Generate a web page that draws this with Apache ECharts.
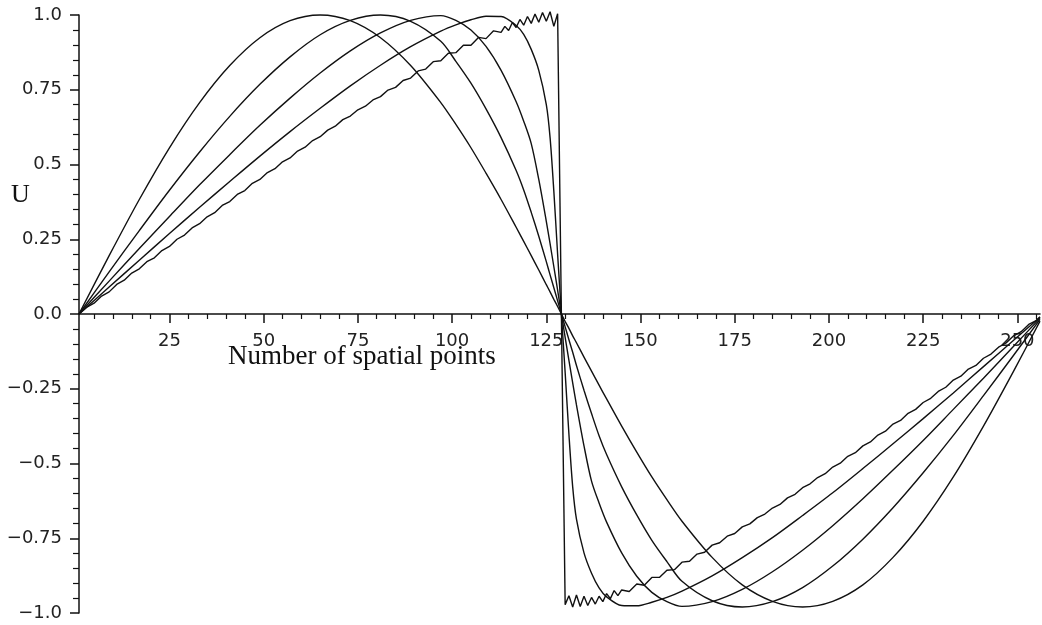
<!DOCTYPE html>
<html>
<head>
<meta charset="utf-8">
<script src="https://cdn.jsdelivr.net/npm/echarts@6/dist/echarts.min.js"></script>
<style>
  html, body { margin: 0; padding: 0; background: #fff; }
  #chart { width: 1042px; height: 625px; }
</style>
</head>
<body>
<div id="chart"></div>
<script>
// Spatial sample positions shared by the four smooth profiles
const xs = [1, 9, 17, 25, 33, 41, 49, 57, 65, 73, 81, 89, 97, 101, 105, 109, 113, 117, 119, 121, 123, 125, 126, 127, 128, 129,
  130, 131, 132, 133, 135, 137, 139, 141, 145, 149, 153, 157, 161, 169, 177, 185, 193, 201, 209, 217, 225, 233, 241, 249, 256];

// Profile 1: initial sine wave
const u1 = [0, 0.195, 0.383, 0.556, 0.707, 0.831, 0.924, 0.981, 1.0, 0.981, 0.924, 0.831, 0.707, 0.634, 0.556, 0.471, 0.383, 0.290, 0.243, 0.195, 0.147, 0.098, 0.074, 0.049, 0.025, 0,
  -0.025, -0.048, -0.073, -0.096, -0.144, -0.191, -0.238, -0.284, -0.375, -0.462, -0.545, -0.621, -0.693, -0.814, -0.906, -0.961, -0.98, -0.961, -0.906, -0.814, -0.693, -0.545, -0.375, -0.191, -0.024];

// Profile 2
const u2 = [0, 0.141, 0.279, 0.414, 0.542, 0.661, 0.768, 0.860, 0.934, 0.982, 1.0, 0.979, 0.912, 0.845, 0.772, 0.686, 0.590, 0.480, 0.415, 0.340, 0.260, 0.175, 0.131, 0.088, 0.044, 0,
  -0.043, -0.086, -0.128, -0.172, -0.255, -0.333, -0.407, -0.470, -0.578, -0.672, -0.757, -0.828, -0.894, -0.959, -0.980, -0.962, -0.915, -0.843, -0.753, -0.648, -0.531, -0.406, -0.273, -0.138, -0.018];

// Profile 3
const u3 = [0, 0.110, 0.219, 0.326, 0.432, 0.533, 0.631, 0.722, 0.806, 0.880, 0.940, 0.982, 0.998, 0.982, 0.950, 0.895, 0.815, 0.710, 0.645, 0.570, 0.450, 0.310, 0.235, 0.158, 0.080, 0,
  -0.078, -0.155, -0.230, -0.304, -0.441, -0.559, -0.632, -0.696, -0.799, -0.877, -0.931, -0.962, -0.978, -0.962, -0.921, -0.862, -0.790, -0.708, -0.618, -0.522, -0.423, -0.319, -0.215, -0.108, -0.014];

// Profile 4
const u4 = [0, 0.090, 0.180, 0.269, 0.357, 0.443, 0.528, 0.610, 0.688, 0.763, 0.832, 0.894, 0.946, 0.967, 0.984, 0.996, 0.995, 0.965, 0.935, 0.885, 0.815, 0.700, 0.590, 0.410, 0.200, 0,
  -0.196, -0.402, -0.578, -0.686, -0.799, -0.867, -0.916, -0.946, -0.975, -0.976, -0.964, -0.948, -0.927, -0.876, -0.815, -0.748, -0.674, -0.598, -0.517, -0.434, -0.350, -0.264, -0.176, -0.088, -0.011];

// Profile 5 (steepened front with ripples) has its own, finer sampling
const xs5 = [1, 3, 5, 7, 9, 11, 13, 15, 17, 19, 21, 23, 25, 27, 29, 31, 33, 35, 37, 39, 41, 43, 45, 47, 49, 51, 53, 55, 57, 59,
  61, 63, 65, 67, 69, 71, 73, 75, 77, 79, 81, 83, 85, 87, 89, 91, 93, 95, 97, 99, 101, 103, 105, 107, 109, 111, 113,
  114, 115, 116, 117, 118, 119, 120, 121, 122, 123, 124, 125, 126, 127, 128,
  129,
  130, 131, 132, 133, 134, 135, 136, 137, 138, 139, 140, 141, 142, 143, 144,
  145, 147, 149, 151, 153, 155, 157, 159, 161, 163, 165, 167, 169, 171, 173, 175, 177, 179, 181, 183, 185, 187, 189, 191,
  193, 195, 197, 199, 201, 203, 205, 207, 209, 211, 213, 215, 217, 219, 221, 223, 225, 227, 229, 231, 233, 235, 237, 239,
  241, 243, 245, 247, 249, 251, 253, 255,
  256];

const u5 = [0, 0.022, 0.036, 0.060, 0.074, 0.099, 0.113, 0.137, 0.151, 0.175, 0.188, 0.212, 0.226, 0.250, 0.264, 0.288, 0.302, 0.325, 0.339, 0.363,
  0.376, 0.400, 0.413, 0.437, 0.450, 0.473, 0.486, 0.509, 0.522, 0.545, 0.558, 0.580, 0.593, 0.615, 0.628, 0.650, 0.662, 0.683, 0.695, 0.716,
  0.727, 0.749, 0.758, 0.781, 0.789, 0.813, 0.819, 0.844, 0.847, 0.872, 0.874, 0.899, 0.899, 0.925, 0.921, 0.947, 0.942,
  0.962, 0.948, 0.975, 0.958, 0.985, 0.966, 0.995, 0.972, 1.003, 0.976, 1.008, 0.979, 1.011, 0.962, 1.004,
  0,
  -0.972, -0.942, -0.980, -0.940, -0.978, -0.944, -0.975, -0.948, -0.970, -0.944, -0.962, -0.935, -0.952, -0.925, -0.942,
  -0.923, -0.928, -0.903, -0.907, -0.881, -0.881, -0.857, -0.855, -0.830, -0.827, -0.803, -0.797, -0.773, -0.765, -0.743, -0.734, -0.712, -0.702, -0.681, -0.669,
  -0.649, -0.637, -0.615, -0.603, -0.581, -0.568, -0.547, -0.534, -0.512, -0.499, -0.476, -0.464, -0.441, -0.428, -0.405, -0.392, -0.368, -0.356, -0.332, -0.319,
  -0.296, -0.282, -0.259, -0.245, -0.221, -0.208, -0.184, -0.172, -0.148, -0.134, -0.111, -0.097, -0.073, -0.059, -0.035, -0.022,
  -0.009];

// Axis ticks
const xMajorTicks = [25, 50, 75, 100, 125, 150, 175, 200, 225, 250];
const xMinorTicks = [5, 10, 15, 20, 30, 35, 40, 45, 55, 60, 65, 70, 80, 85, 90, 95, 105, 110, 115, 120,
  130, 135, 140, 145, 155, 160, 165, 170, 180, 185, 190, 195, 205, 210, 215, 220, 230, 235, 240, 245, 255];
const yTickLabels = { '-1': '\u22121.0', '-0.75': '\u22120.75', '-0.5': '\u22120.5', '-0.25': '\u22120.25',
  '0': '0.0', '0.25': '0.25', '0.5': '0.5', '0.75': '0.75', '1': '1.0' };

const xTitle = 'Number of spatial points';
const yTitle = 'U';

const ink = '#111';
const labelFont = { fontFamily: 'DejaVu Sans', fontSize: 18, color: '#222' };

// plot box: U = 1 at y 15, U = -1 at y 613, so U = 0 sits 299px above the bottom edge
const gridTop = 15, gridBottom = 12, zeroLift = -299;

function pairs(x, y) { return x.map((v, i) => [v, y[i]]); }

function profile(x, y, smooth) {
  return {
    type: 'line',
    data: pairs(x, y),
    showSymbol: false,
    clip: false,
    smooth: smooth ? 0.3 : false,
    lineStyle: { color: ink, width: 1.4 },
    silent: true,
    animation: false
  };
}

const chart = echarts.init(document.getElementById('chart'), null, { renderer: 'canvas' });
chart.setOption({
  backgroundColor: '#fff',
  animation: false,
  grid: { left: 79, right: 2, top: gridTop, bottom: gridBottom, containLabel: false },
  xAxis: [
    {
      type: 'value', min: 1, max: 256, position: 'bottom', offset: zeroLift,
      axisLine: { onZero: false, lineStyle: { color: ink, width: 1.5 } },
      axisTick: { show: true, customValues: xMajorTicks, length: 9, lineStyle: { color: ink, width: 1.5 } },
      axisLabel: Object.assign({ customValues: xMajorTicks, margin: 18 }, labelFont),
      splitLine: { show: false }
    },
    {
      type: 'value', min: 1, max: 256, position: 'bottom', offset: zeroLift,
      axisLine: { show: false, onZero: false },
      axisTick: { show: true, customValues: xMinorTicks, length: 5, lineStyle: { color: ink, width: 1.2 } },
      axisLabel: { show: false },
      splitLine: { show: false }
    }
  ],
  yAxis: {
    type: 'value', min: -1, max: 1, interval: 0.25,
    axisLine: { show: true, onZero: false, lineStyle: { color: ink, width: 1.5 } },
    axisTick: { show: true, length: 9, lineStyle: { color: ink, width: 1.5 } },
    minorTick: { show: true, splitNumber: 5, length: 6, lineStyle: { color: ink, width: 1.2 } },
    axisLabel: Object.assign({ margin: 17, formatter: v => yTickLabels[String(v)] ?? String(v) }, labelFont),
    splitLine: { show: false }
  },
  graphic: [
    { type: 'text', left: 11, top: 182, style: { text: yTitle, font: '26px "Liberation Serif"', fill: ink } },
    { type: 'text', left: 228, top: 343, style: { text: xTitle, font: '27px "Liberation Serif"', fill: ink } }
  ],
  series: [
    profile(xs, u1, true),
    profile(xs, u2, true),
    profile(xs, u3, true),
    profile(xs, u4, true),
    profile(xs5, u5, false)
  ]
});
</script>
</body>
</html>
